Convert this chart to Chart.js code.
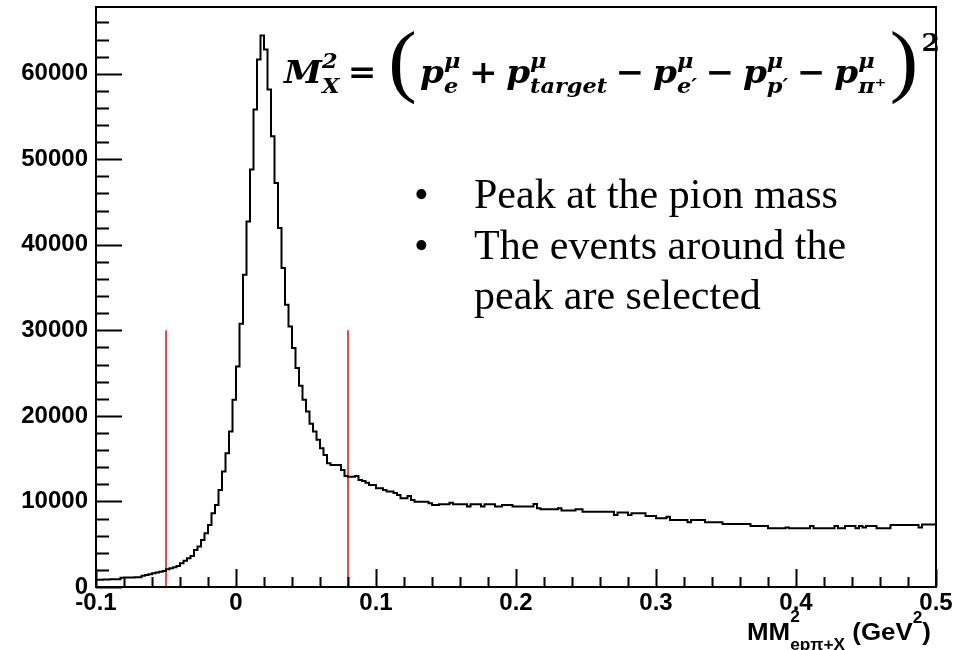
<!DOCTYPE html>
<html lang="en">
<head>
<meta charset="UTF-8">
<title>Missing mass squared</title>
<script src="https://cdn.jsdelivr.net/npm/chart.js"></script>
<style>
  html, body { margin: 0; padding: 0; background: #fff; }
  #wrap { position: relative; width: 969px; height: 650px; overflow: hidden; }
  #chart { position: absolute; left: 0; top: 0; }
  .overlay { position: absolute; white-space: nowrap; color: #000; }

  #formula { left: 284px; top: 40px; font: italic bold 32px 'DejaVu Serif', serif; line-height: 1; transform-origin: 0 0; }
  #formula .ss { display: inline-block; font-size: 21px; line-height: 25px; vertical-align: -10px; text-align: left; }
  #formula .ss span { display: block; }
  #formula .op { font-style: normal; margin: 0 8px; }
  #formula .paren { font: normal 80px 'Liberation Serif', serif; vertical-align: -4px; margin: 0 3px; }
  #formula .sq { font-style: normal; font-size: 25px; vertical-align: 32px; }
  .bl { display: inline-block; width: 0; height: 0; }

  .note { font: 42px 'Liberation Serif', serif; line-height: 1; }

  #xtitle { left: 747px; top: 616px; font: bold 24px 'Liberation Sans', sans-serif; line-height: 1; transform-origin: 0 0; }
  #xtitle .ss { display: inline-block; font-size: 16px; line-height: 28px; vertical-align: -10px; }
  #xtitle .ss span { display: block; }
  #xtitle .sq { font-size: 16px; vertical-align: 17px; }
</style>
</head>
<body>
<div id="wrap">
  <canvas id="chart" width="969" height="650"></canvas>

  <div id="formula" class="overlay"><span class="bl"></span>M<span class="ss"><span>2</span><span>X</span></span><span class="op">=</span><span class="paren">(</span>p<span class="ss"><span>μ</span><span>e</span></span><span class="op">+</span>p<span class="ss"><span>μ</span><span>target</span></span><span class="op">−</span>p<span class="ss"><span>μ</span><span>e′</span></span><span class="op">−</span>p<span class="ss"><span>μ</span><span>p′</span></span><span class="op">−</span>p<span class="ss"><span>μ</span><span>π⁺</span></span><span class="paren">)</span><span class="sq">2</span></div>

  <div class="overlay note" style="left:414px; top:173px;">•</div>
  <div class="overlay note" style="left:474px; top:173px;">Peak at the pion mass</div>
  <div class="overlay note" style="left:414px; top:224px;">•</div>
  <div class="overlay note" style="left:474px; top:224px;">The events around the</div>
  <div class="overlay note" style="left:474px; top:274px;">peak are selected</div>

  <div id="xtitle" class="overlay"><span class="bl"></span>MM<span class="ss"><span>2</span><span>epπ+X</span></span> (GeV<span class="sq">2</span>)</div>
</div>

<script>
// histogram binning
const X_MIN = -0.1;
const X_MAX = 0.5;
const BIN_WIDTH = 0.0025;
const Y_MAX = 67800;

// bin contents (240 bins)
const counts = [
  850, 850, 870, 880, 900, 900, 920, 1080, 1100, 1100,
  1110, 1130, 1150, 1320, 1400, 1500, 1600, 1700, 1790, 1870,
  2070, 2190, 2300, 2450, 2770, 3080, 3350, 3630, 4330, 4720,
  5500, 6280, 7250, 8620, 9600, 11350, 13490, 15640, 18170, 21880,
  25780, 30770, 36500, 42740, 48790, 55810, 61660, 64470, 62830, 58150,
  52690, 47230, 41970, 37290, 33000, 30450, 27930, 25590, 23520, 21880,
  20510, 19070, 18170, 17200, 16230, 15440, 14470, 14270, 14270, 14270,
  13690, 12990, 12900, 12900, 12970, 12520, 12400, 12200, 11930, 11930,
  11550, 11550, 11350, 11150, 11150, 11000, 10760, 10380, 10370, 10650,
  10180, 9980, 9980, 9980, 9980, 9790, 9590, 9590, 9670, 9670,
  9670, 9860, 9670, 9670, 9670, 9670, 9400, 9670, 9670, 9670,
  9400, 9670, 9670, 9670, 9400, 9400, 9600, 9600, 9600, 9400,
  9400, 9400, 9400, 9400, 9400, 9700, 9200, 9090, 9090, 9090,
  9090, 9090, 9200, 8930, 8930, 8930, 8930, 9100, 9100, 8810,
  8810, 8810, 8810, 8810, 8810, 8810, 8810, 8810, 8420, 8700,
  8700, 8700, 8420, 8620, 8620, 8620, 8620, 8300, 8300, 8300,
  8040, 8040, 8040, 8200, 7840, 7840, 7840, 7840, 7840, 7570,
  7840, 7840, 7840, 7840, 7570, 7570, 7570, 7570, 7570, 7370,
  7370, 7370, 7370, 7370, 7370, 7370, 7370, 7140, 7140, 7140,
  7140, 7140, 6860, 6860, 6860, 6860, 6860, 6950, 6860, 6860,
  6860, 6860, 6860, 6860, 7140, 6860, 6860, 6860, 6860, 6860,
  6860, 7140, 6860, 6860, 7140, 7140, 7140, 6860, 7140, 6950,
  7140, 7140, 7140, 6860, 6860, 6860, 6860, 7250, 7250, 7250,
  7250, 7250, 7250, 7250, 7250, 6950, 7300, 7300, 7300, 7300
];

// selection cuts (red lines)
const cutValues = [-0.05, 0.08];
const cutHeight = 30000;

// axis ticks
const xTicks = [-0.1, 0, 0.1, 0.2, 0.3, 0.4, 0.5];
const xTickLabels = ['-0.1', '0', '0.1', '0.2', '0.3', '0.4', '0.5'];
const yTicks = [0, 10000, 20000, 30000, 40000, 50000, 60000];
const yTickLabels = ['0', '10000', '20000', '30000', '40000', '50000', '60000'];
const X_MINOR = 0.02;
const Y_MINOR = 2000;

const histPoints = counts.map((c, i) => ({ x: X_MIN + i * BIN_WIDTH, y: c }));
histPoints.push({ x: X_MAX, y: counts[counts.length - 1] });

const cutSets = cutValues.map(v => ({
  data: [{ x: v, y: 0 }, { x: v, y: cutHeight }],
  borderColor: '#ff0000',
  borderWidth: 1.5,
  pointRadius: 0
}));

// ROOT style frame with ticks pointing inwards
const framePlugin = {
  id: 'frame',
  afterDatasetsDraw(chart) {
    const { ctx, chartArea: a, scales: { x, y } } = chart;
    ctx.save();
    ctx.strokeStyle = '#000';
    ctx.lineWidth = 2;
    ctx.beginPath();
    for (let v = 0; v <= Y_MAX; v += Y_MINOR) {
      const py = Math.round(y.getPixelForValue(v)) + 0.5;
      const len = yTicks.includes(v) ? 26 : 13;
      ctx.moveTo(a.left, py);
      ctx.lineTo(a.left + len, py);
    }
    for (let k = 0; k <= 30; k++) {
      const v = X_MIN + k * X_MINOR;
      const px = Math.round(x.getPixelForValue(v)) + 0.5;
      const len = k % 5 === 0 ? 18 : 10;
      ctx.moveTo(px, a.bottom);
      ctx.lineTo(px, a.bottom - len);
    }
    ctx.stroke();
    ctx.strokeRect(a.left, a.top, a.right - a.left, a.bottom - a.top);
    ctx.restore();
  }
};

const tickFont = { family: 'Liberation Sans', weight: 'bold', size: 24 };

new Chart(document.getElementById('chart'), {
  type: 'line',
  data: {
    datasets: [
      {
        data: histPoints,
        stepped: true,
        borderColor: '#000',
        borderWidth: 2,
        pointRadius: 0,
        fill: false
      },
      ...cutSets
    ]
  },
  options: {
    responsive: false,
    animation: false,
    devicePixelRatio: 1,
    layout: { padding: { top: 7, right: 33, left: 0, bottom: 0 } },
    plugins: { legend: { display: false }, tooltip: { enabled: false } },
    scales: {
      x: {
        type: 'linear',
        min: X_MIN,
        max: X_MAX,
        grid: { display: false, drawTicks: false },
        border: { display: false },
        afterBuildTicks: s => { s.ticks = xTicks.map(v => ({ value: v })); },
        afterFit: s => { s.height = 63; s.paddingLeft = 0; s.paddingRight = 0; },
        ticks: {
          autoSkip: false,
          maxRotation: 0,
          padding: 2,
          color: '#000',
          font: tickFont,
          callback: (v, i) => xTickLabels[i]
        }
      },
      y: {
        min: 0,
        max: Y_MAX,
        grid: { display: false, drawTicks: false },
        border: { display: false },
        afterBuildTicks: s => { s.ticks = yTicks.map(v => ({ value: v })); },
        afterFit: s => { s.width = 96; s.paddingTop = 0; s.paddingBottom = 0; },
        ticks: {
          autoSkip: false,
          padding: 8,
          color: '#000',
          font: tickFont,
          callback: (v, i) => yTickLabels[i]
        }
      }
    }
  },
  plugins: [framePlugin]
});

// put the overlaid texts where the picture has them: baseline, and right edge
function placeText(id, baseline, right) {
  const el = document.getElementById(id);
  const left = parseFloat(getComputedStyle(el).left);
  const w = el.getBoundingClientRect().width;
  el.style.transform = 'scaleX(' + ((right - left) / w) + ')';
  const mark = el.querySelector('.bl').getBoundingClientRect();
  el.style.top = (parseFloat(getComputedStyle(el).top) + baseline - mark.top) + 'px';
}
placeText('formula', 83, 940);
placeText('xtitle', 640, 931);
</script>
</body>
</html>
